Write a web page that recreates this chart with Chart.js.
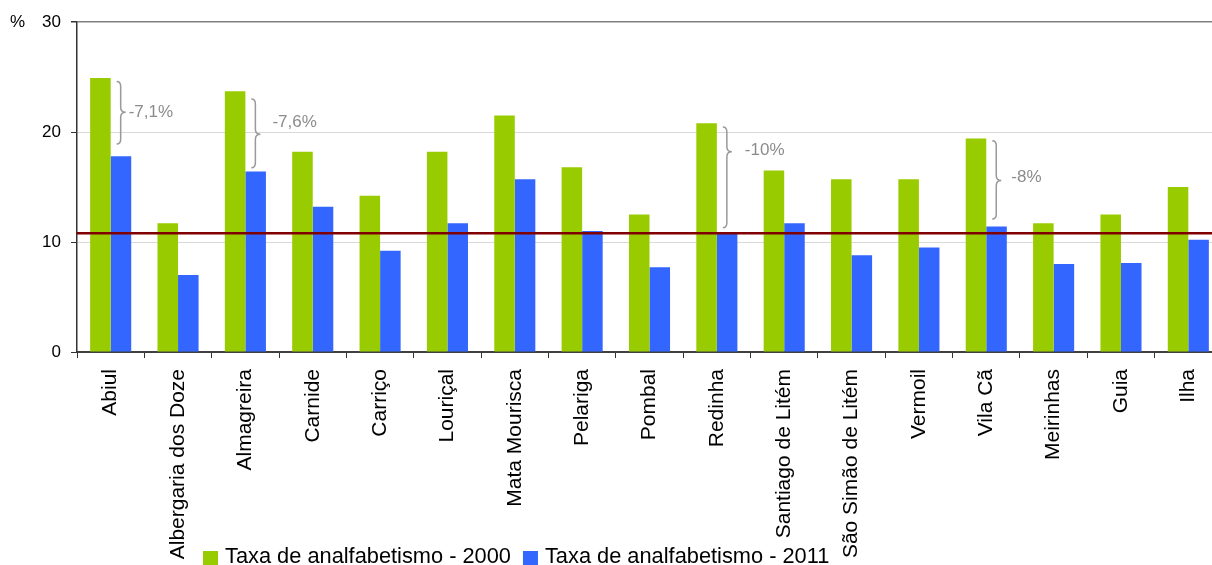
<!DOCTYPE html>
<html>
<head>
<meta charset="utf-8">
<title>Taxa de analfabetismo por freguesia</title>
<script src="https://cdn.jsdelivr.net/npm/chart.js@4.4.0/dist/chart.umd.min.js"></script>
<style>
  html, body { margin: 0; padding: 0; background: #fff; overflow: hidden; }
  #wrap { width: 1212px; height: 565px; overflow: hidden; }
</style>
</head>
<body>
<div id="wrap"><canvas id="chart" width="1240" height="565"></canvas></div>
<script>
const freguesias = ['Abiul', 'Albergaria dos Doze', 'Almagreira', 'Carnide', 'Carriço', 'Louriçal',
  'Mata Mourisca', 'Pelariga', 'Pombal', 'Redinha', 'Santiago de Litém', 'São Simão de Litém',
  'Vermoil', 'Vila Cã', 'Meirinhas', 'Guia', 'Ilha'];
const taxa2000 = [24.9, 11.7, 23.7, 18.2, 14.2, 18.2, 21.5, 16.8, 12.5, 20.8, 16.5, 15.7, 15.7, 19.4, 11.7, 12.5, 15.0];
const taxa2011 = [17.8, 7.0, 16.4, 13.2, 9.2, 11.7, 15.7, 11.0, 7.7, 10.9, 11.7, 8.8, 9.5, 11.4, 8.0, 8.1, 10.2];
const yTicks = [0, 10, 20, 30];
const mediaConcelho = 10.8;

// chavetas com a variação entre 2000 e 2011 (valores em %)
const variacoes = [
  { freguesia: 'Abiul', texto: '-7,1%', topo: 24.6, base: 18.9, ponta: 21.8, textoEm: 21.8 },
  { freguesia: 'Almagreira', texto: '-7,6%', topo: 23.0, base: 16.75, ponta: 19.8, textoEm: 20.85 },
  { freguesia: 'Redinha', texto: '-10%', topo: 20.45, base: 11.3, ponta: 18.2, textoEm: 18.3 },
  { freguesia: 'Vila Cã', texto: '-8%', topo: 19.2, base: 12.1, ponta: 15.6, textoEm: 15.9 }
];
// distância do texto ao centro da freguesia
const afastamentoTexto = { 'Abiul': 18, 'Almagreira': 27, 'Redinha': 28, 'Vila Cã': 25 };

const FONT = '"Liberation Sans", Arial, sans-serif';

const extras = {
  id: 'extras',
  afterDatasetsDraw(chart) {
    const { ctx, chartArea, scales: { x, y } } = chart;
    ctx.save();

    // linha da média
    const ym = y.getPixelForValue(mediaConcelho);
    ctx.strokeStyle = '#800000';
    ctx.lineWidth = 2.5;
    ctx.beginPath();
    ctx.moveTo(chartArea.left, ym);
    ctx.lineTo(chartArea.right, ym);
    ctx.stroke();

    // chavetas
    ctx.strokeStyle = '#999999';
    ctx.lineWidth = 1.5;
    ctx.fillStyle = '#8c8c8c';
    ctx.font = '17px ' + FONT;
    ctx.textBaseline = 'middle';
    variacoes.forEach(v => {
      const cx = x.getPixelForValue(freguesias.indexOf(v.freguesia));
      const xl = cx + 6, xm = cx + 10, xr = cx + 15;
      const yt = y.getPixelForValue(v.topo);
      const yb = y.getPixelForValue(v.base);
      const yp = y.getPixelForValue(v.ponta);
      const r = 5;
      ctx.beginPath();
      ctx.moveTo(xl, yt);
      ctx.quadraticCurveTo(xm, yt, xm, yt + r);
      ctx.lineTo(xm, yp - r);
      ctx.quadraticCurveTo(xm, yp, xr, yp);
      ctx.quadraticCurveTo(xm, yp, xm, yp + r);
      ctx.lineTo(xm, yb - r);
      ctx.quadraticCurveTo(xm, yb, xl, yb);
      ctx.stroke();
      ctx.fillText(v.texto, cx + afastamentoTexto[v.freguesia], y.getPixelForValue(v.textoEm));
    });
    ctx.restore();
  },
  afterDraw(chart) {
    const ctx = chart.ctx;
    ctx.save();
    ctx.fillStyle = '#000';
    ctx.font = '17px ' + FONT;
    ctx.textBaseline = 'middle';
    ctx.fillText('%', 10, chart.scales.y.getPixelForValue(30));

    // legenda
    ctx.font = '21.8px ' + FONT;
    ctx.textBaseline = 'alphabetic';
    let lx = 203;
    chart.data.datasets.forEach(ds => {
      ctx.fillStyle = ds.backgroundColor;
      ctx.fillRect(lx, 551, 15, 15);
      ctx.fillStyle = '#000';
      ctx.fillText(ds.label, lx + 22, 563);
      lx += 22 + ctx.measureText(ds.label).width + 12;
    });
    ctx.restore();
  }
};

new Chart(document.getElementById('chart'), {
  type: 'bar',
  data: {
    labels: freguesias,
    datasets: [
      { label: 'Taxa de analfabetismo - 2000', data: taxa2000, backgroundColor: '#99cc00' },
      { label: 'Taxa de analfabetismo - 2011', data: taxa2011, backgroundColor: '#3366ff' }
    ]
  },
  options: {
    responsive: false,
    animation: false,
    layout: { padding: { top: 22, right: 18, bottom: 0, left: 0 } },
    datasets: { bar: { barPercentage: 1, categoryPercentage: 0.61 } },
    plugins: { legend: { display: false }, tooltip: { enabled: false } },
    scales: {
      x: {
        afterFit: s => { s.height = 213; },
        grid: { drawOnChartArea: false, drawTicks: true, tickLength: 6, color: '#333', offset: true },
        border: { color: '#404040', width: 2 },
        ticks: {
          minRotation: 90, maxRotation: 90, autoSkip: false, padding: 11,
          color: '#000', font: { family: FONT, size: 21 }
        }
      },
      y: {
        min: 0, max: 30,
        afterFit: s => { s.width = 77; },
        afterBuildTicks: s => { s.ticks = yTicks.map(v => ({ value: v })); },
        grid: {
          color: c => (c.tick && c.tick.value === 30 ? '#808080' : '#d9d9d9'),
          lineWidth: c => (c.tick && c.tick.value === 30 ? 1.5 : 1),
          tickColor: '#333', tickLength: 6
        },
        border: { color: '#333', width: 1.5 },
        ticks: { padding: 10, color: '#000', font: { family: FONT, size: 17 } }
      }
    }
  },
  plugins: [extras]
});
</script>
</body>
</html>
